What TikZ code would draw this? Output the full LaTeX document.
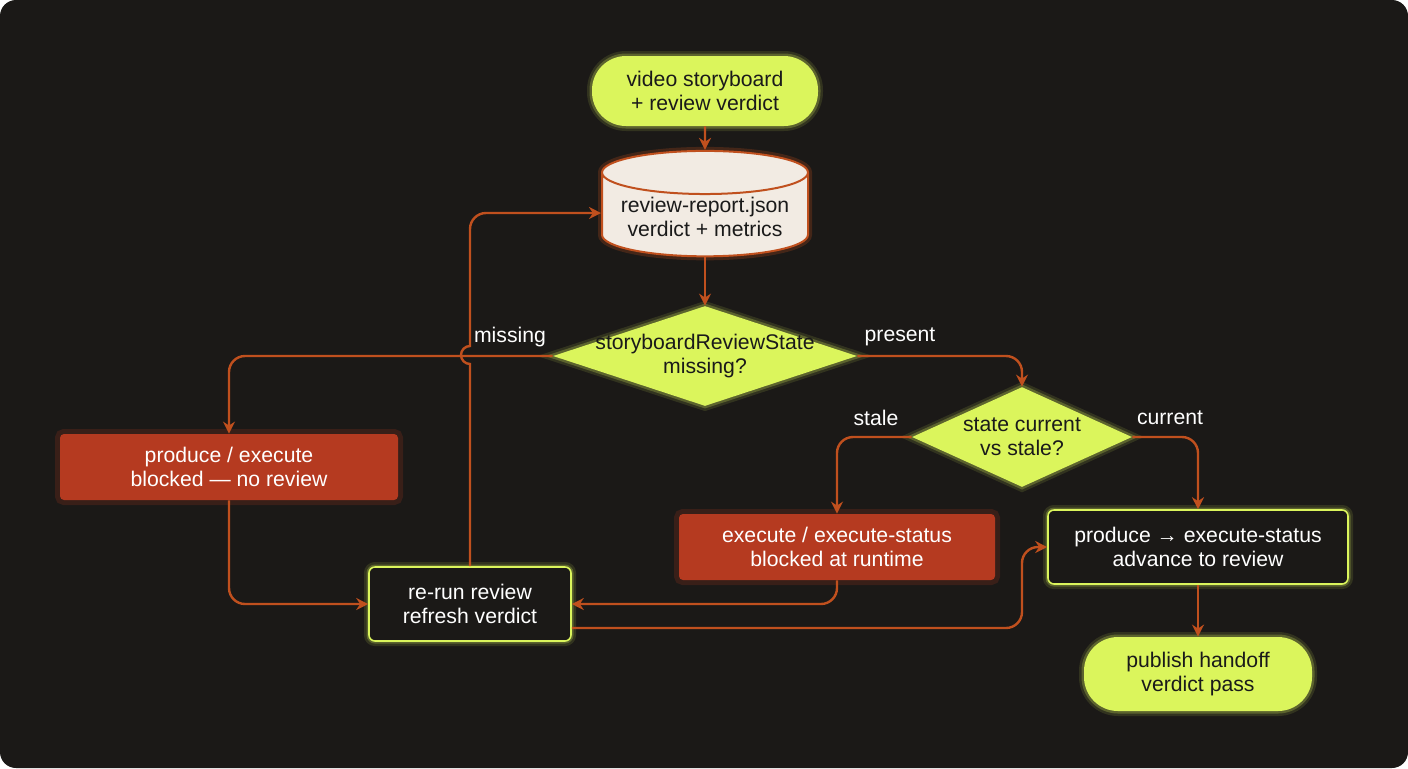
\documentclass[tikz,border=0pt]{standalone}
\usepackage{fontspec}
\setmainfont{Liberation Sans}
\usetikzlibrary{shapes.geometric,arrows.meta}
\definecolor{bg}{HTML}{1B1917}
\definecolor{lime}{HTML}{DBF55C}
\definecolor{ln}{HTML}{C0501E}
\definecolor{red}{HTML}{B53A20}
\definecolor{cream}{HTML}{F2EBE3}
\definecolor{txt}{HTML}{1A1A1A}
\tikzset{
  x=0.5pt,y=-0.5pt,
  every node/.style={font=\fontsize{10.6}{12.2}\selectfont,align=center},
  glowL/.style={preaction={draw=lime,line width=5pt,opacity=0.12},preaction={draw=lime,line width=2.5pt,opacity=0.25}},
  glowR/.style={preaction={draw=red,line width=5pt,opacity=0.2}},
  term/.style={rounded corners=17pt,fill=lime,text=txt,minimum width=113pt,minimum height=35pt,glowL},
  dec/.style={diamond,aspect=3,fill=lime,text=txt,inner sep=-12pt,glowL},
  redbox/.style={rounded corners=2pt,fill=red,text=white,glowR},
  darkbox/.style={rounded corners=3pt,fill=bg,draw=lime,line width=0.8pt,text=white,glowL},
  conn/.style={draw=ln,line width=1.2pt,rounded corners=8pt,-{Stealth[length=6pt,width=6pt]}},
  lbl/.style={text=white}
}
\begin{document}
\begin{tikzpicture}
\fill[white] (0,0) rectangle (1408,768);
\fill[bg,rounded corners=8pt] (0,0) rectangle (1408,768);
\useasboundingbox (0,0) rectangle (1408,768);

\node[term] (top) at (705,91) {video storyboard\\+ review verdict};
\node[cylinder,shape border rotate=90,aspect=0.25,draw=ln,line width=1pt,fill=cream,text=txt,minimum width=103pt,minimum height=45pt,inner sep=1pt,preaction={draw=ln,line width=4pt,opacity=0.25}] (cyl) at (705,217) {review-report.json\\verdict + metrics};
\node[dec,minimum width=152pt,minimum height=50pt] (d1) at (705,356) {storyboardReviewState\\missing?};
\node[dec,minimum width=110pt,minimum height=50pt] (d2) at (1022,437) {state current\\vs stale?};
\node[redbox,minimum width=169pt,minimum height=33pt] (b1) at (229,467) {produce / execute\\blocked — no review};
\node[redbox,minimum width=158pt,minimum height=33pt] (b2) at (837,547) {execute / execute-status\\blocked at runtime};
\node[darkbox,minimum width=101pt,minimum height=37pt] (rr) at (470,604) {re-run review\\refresh verdict};
\node[darkbox,minimum width=150pt,minimum height=37pt] (pr) at (1198,547) {produce → execute-status\\advance to review};
\node[term,minimum width=114pt,minimum height=37pt] (pub) at (1198,674) {publish handoff\\verdict pass};

\draw[conn] (top) -- (cyl);
\draw[conn] (cyl) -- (d1);
\draw[conn] (d1.west) -- (229,356) -- (b1.north);
\draw[conn] (d1.east) -| (d2.north);
\draw[conn] (d2.west) -| (b2.north);
\draw[conn] (d2.east) -| (pr.north);
\draw[conn] (b1.south) |- (rr.west);
\draw[conn] (b2.south) |- (rr.east|-0,604);
\draw[conn,rounded corners=0pt] (rr.north) -- (470,364) arc[start angle=90,end angle=270,radius=9] [rounded corners=8pt] -- (470,213) -- (cyl.west|-0,213);
\draw[conn] (rr.east|-0,628) -- (1022,628) -- (1022,547) -- (pr.west);
\draw[conn] (pr) -- (pub);

\node[lbl] (l1) at (510,337) {missing};
\node[lbl] (l2) at (900,337) {present};
\node[lbl] (l3) at (876,418) {stale};
\node[lbl] (l4) at (1170,418) {current};
\end{tikzpicture}
\end{document}
